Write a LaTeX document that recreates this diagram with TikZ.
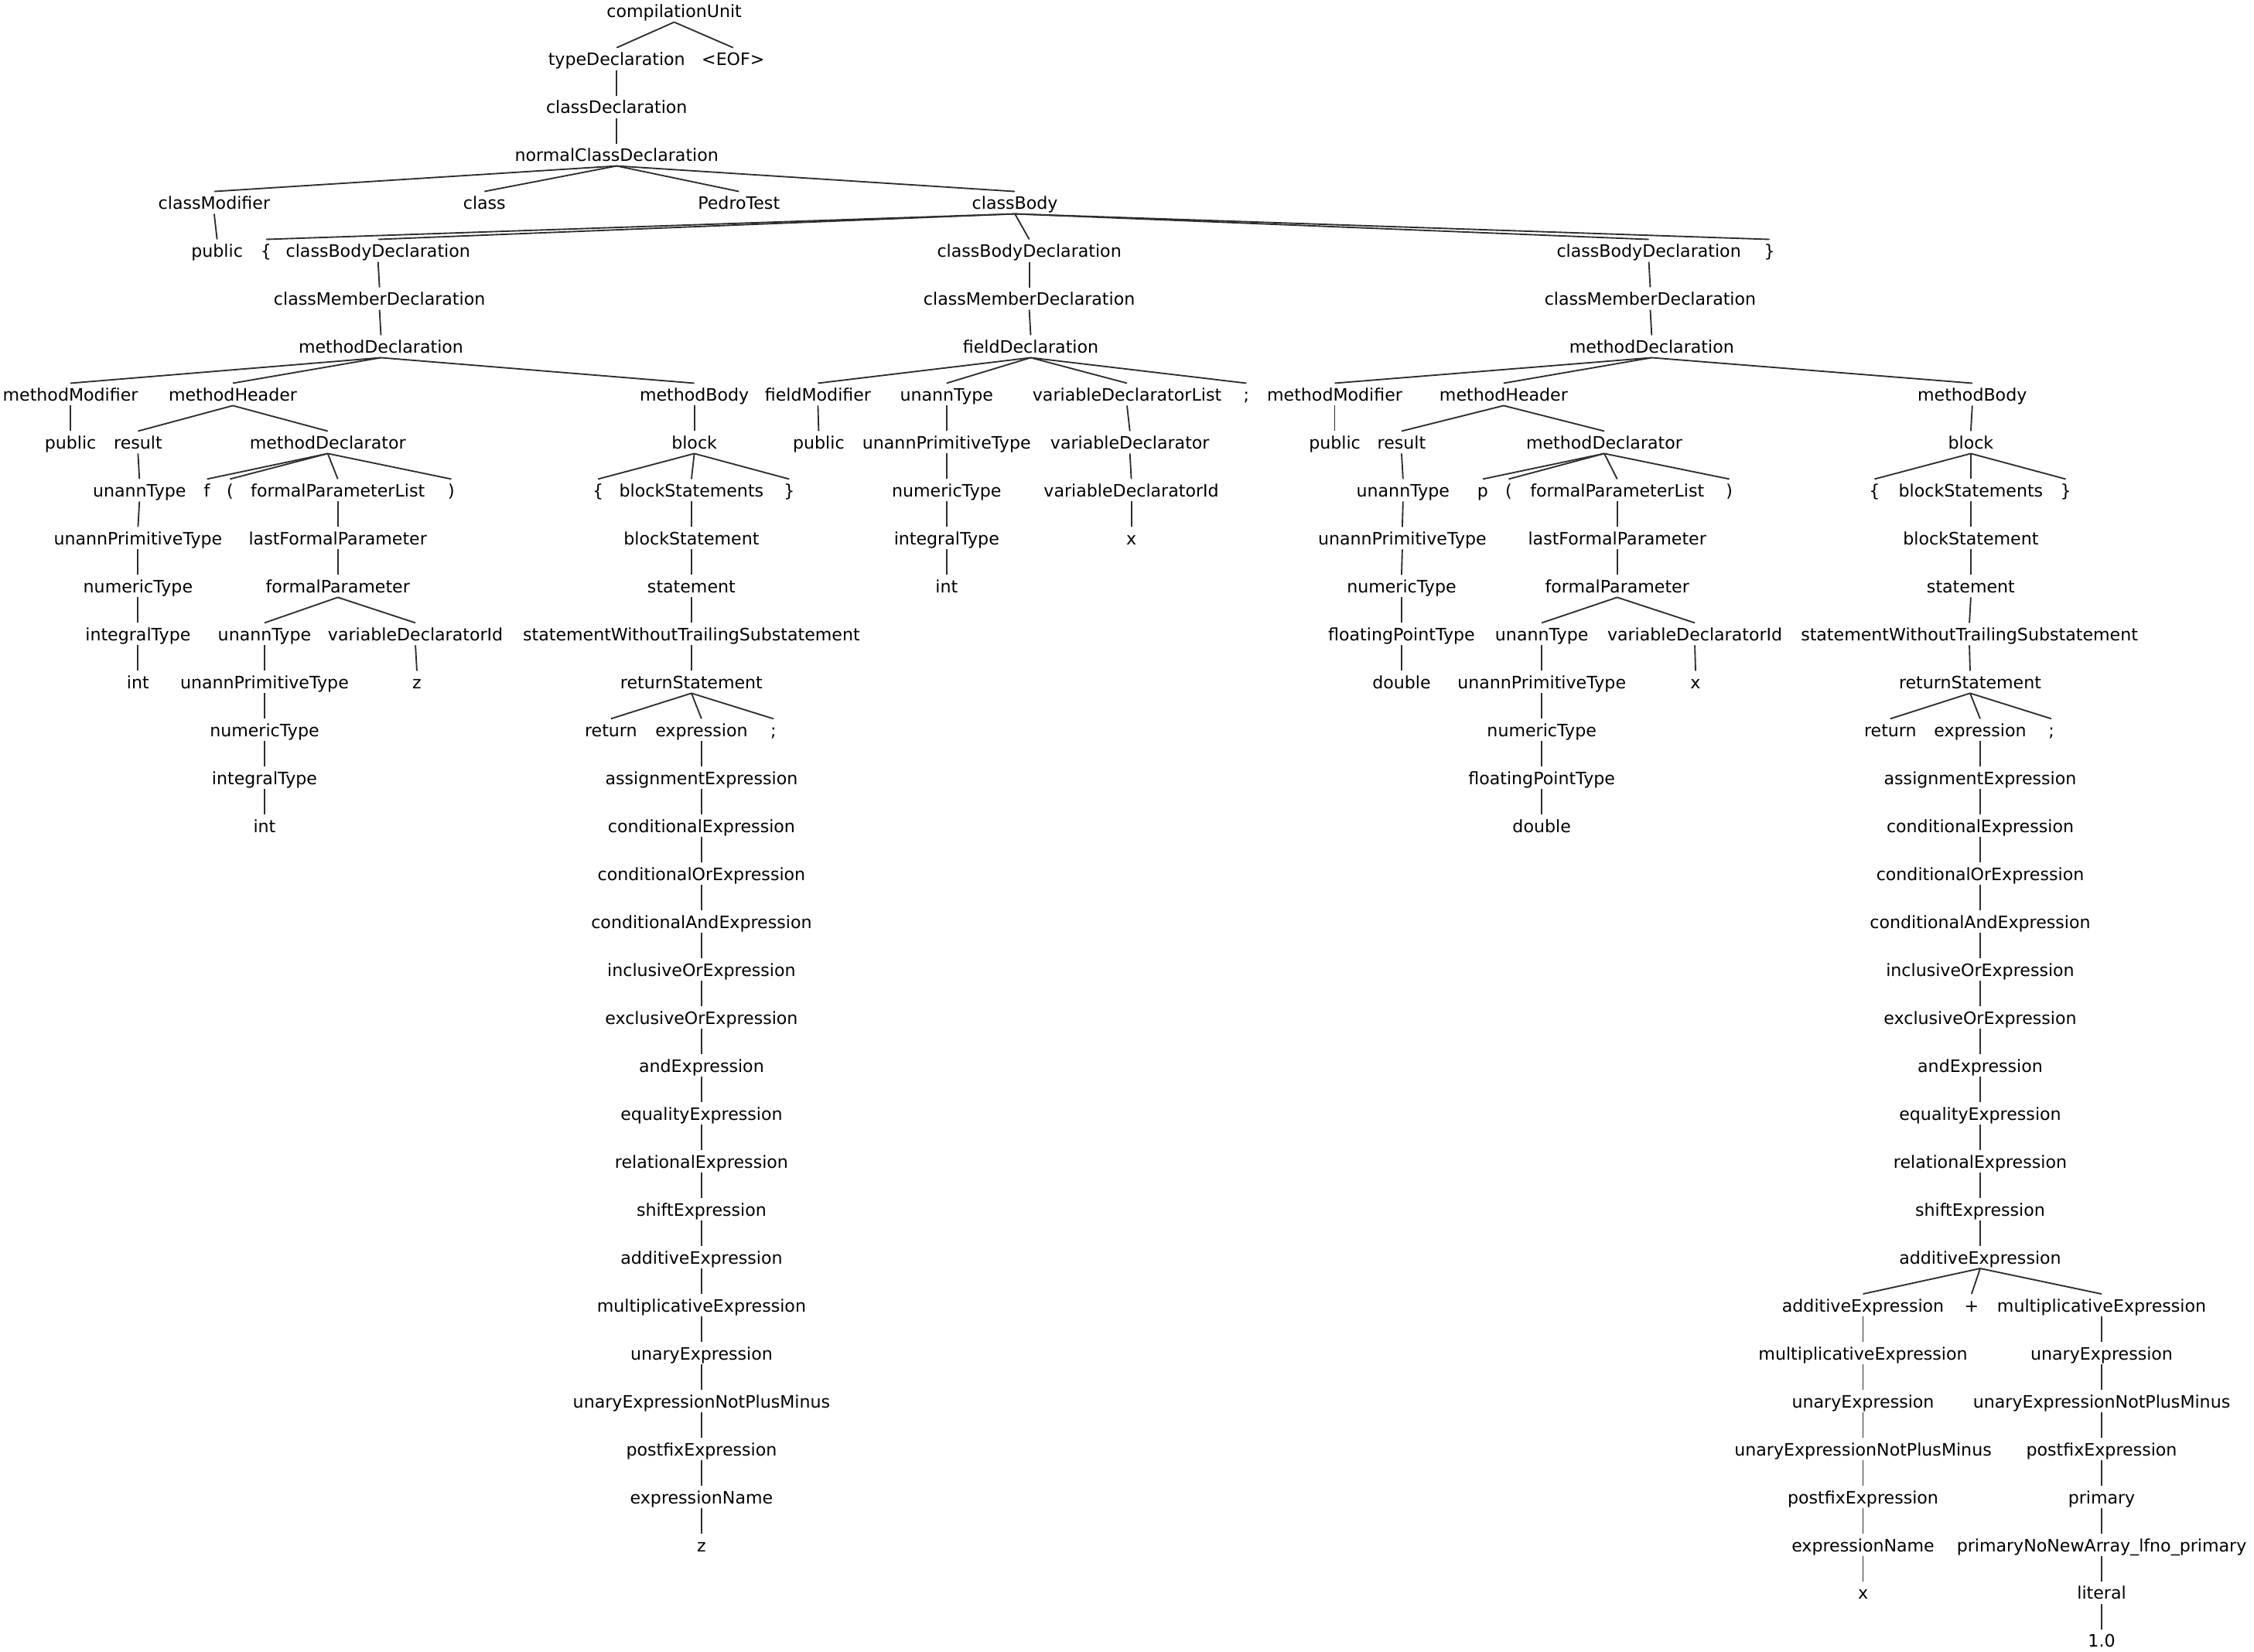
\documentclass[tikz,border=0pt]{standalone}
\usepackage{fontspec}
\setmainfont{DejaVu Sans}
\begin{document}
\begin{tikzpicture}[x=1pt,y=-33.35pt,
  t/.style={font=\fontsize{11.9}{13}\selectfont, anchor=base, inner sep=0pt, text height=12.2pt, text depth=3pt},
  e/.style={draw=black!82, line width=1pt}]
\useasboundingbox[fill=white] (0pt,0pt) rectangle (1568pt,-1149pt);
\begin{scope}[yshift=-12.2pt]
% top
\node[t] (cu) at (469,0) {compilationUnit};
\node[t] (td) at (429,1) {typeDeclaration};
\node[t] (eof) at (510,1) {<EOF>};
\node[t] (cd) at (429,2) {classDeclaration};
\node[t] (ncd) at (429,3) {normalClassDeclaration};
\node[t] (cm) at (149,4) {classModifier};
\node[t] (cls) at (337,4) {class};
\node[t] (pt) at (514,4) {PedroTest};
\node[t] (cb) at (706,4) {classBody};
\node[t] (pub0) at (151,5) {public};
\node[t] (lb0) at (185,5) {\{};
\node[t] (cbd1) at (263,5) {classBodyDeclaration};
\node[t] (cbd2) at (716,5) {classBodyDeclaration};
\node[t] (cbd3) at (1147,5) {classBodyDeclaration};
\node[t] (rb0) at (1231,5) {\}};
\node[t] (cmd1) at (264,6) {classMemberDeclaration};
\node[t] (cmd2) at (716,6) {classMemberDeclaration};
\node[t] (cmd3) at (1148,6) {classMemberDeclaration};
\node[t] (md1) at (265,7) {methodDeclaration};
\node[t] (fd) at (717,7) {fieldDeclaration};
\node[t] (md2) at (1149,7) {methodDeclaration};
% left method
\node[t] (amm) at (49,8) {methodModifier};
\node[t] (amh) at (162,8) {methodHeader};
\node[t] (amb) at (483,8) {methodBody};
\node[t] (apub) at (49,9) {public};
\node[t] (ares) at (96,9) {result};
\node[t] (amdr) at (228,9) {methodDeclarator};
\node[t] (ablk) at (483,9) {block};
\node[t] (aut) at (97,10) {unannType};
\node[t] (af) at (144,10) {f};
\node[t] (alp) at (160,10) {(};
\node[t] (afpl) at (235,10) {formalParameterList};
\node[t] (arp) at (314,10) {)};
\node[t] (albr) at (416,10) {\{};
\node[t] (abss) at (481,10) {blockStatements};
\node[t] (arbr) at (549,10) {\}};
\node[t] (aupt) at (96,11) {unannPrimitiveType};
\node[t] (alfp) at (235,11) {lastFormalParameter};
\node[t] (abs) at (481,11) {blockStatement};
\node[t] (ant) at (96,12) {numericType};
\node[t] (afp) at (235,12) {formalParameter};
\node[t] (ast) at (481,12) {statement};
\node[t] (ait) at (96,13) {integralType};
\node[t] (aut2) at (184,13) {unannType};
\node[t] (avdi) at (289,13) {variableDeclaratorId};
\node[t] (aswt) at (481,13) {statementWithoutTrailingSubstatement};
\node[t] (aint) at (96,14) {int};
\node[t] (aupt2) at (184,14) {unannPrimitiveType};
\node[t] (az) at (290,14) {z};
\node[t] (ars) at (481,14) {returnStatement};
\node[t] (ant2) at (184,15) {numericType};
\node[t] (aret) at (425,15) {return};
\node[t] (aexp) at (488,15) {expression};
\node[t] (asc) at (538,15) {;};
\node[t] (ait2) at (184,16) {integralType};
\node[t] (aint2) at (184,17) {int};
\foreach \r/\s in {16/assignmentExpression, 17/conditionalExpression, 18/conditionalOrExpression,
  19/conditionalAndExpression, 20/inclusiveOrExpression, 21/exclusiveOrExpression, 22/andExpression,
  23/equalityExpression, 24/relationalExpression, 25/shiftExpression, 26/additiveExpression,
  27/multiplicativeExpression, 28/unaryExpression, 29/unaryExpressionNotPlusMinus,
  30/postfixExpression, 31/expressionName, 32/z}
  \node[t] (ac\r) at (488,\r) {\s};
% field
\node[t] (ffm) at (569,8) {fieldModifier};
\node[t] (fut) at (658.5,8) {unannType};
\node[t] (fvdl) at (784,8) {variableDeclaratorList};
\node[t] (fsc) at (867,8) {;};
\node[t] (fpub) at (569.5,9) {public};
\node[t] (fupt) at (658.5,9) {unannPrimitiveType};
\node[t] (fvd) at (786,9) {variableDeclarator};
\node[t] (fnt) at (658.5,10) {numericType};
\node[t] (fvdi) at (787,10) {variableDeclaratorId};
\node[t] (fit) at (658.5,11) {integralType};
\node[t] (fx) at (787,11) {x};
\node[t] (fint) at (658.5,12) {int};
% right method
\node[t] (bmm) at (928.5,8) {methodModifier};
\node[t] (bmh) at (1046,8) {methodHeader};
\node[t] (bmb) at (1372,8) {methodBody};
\node[t] (bpub) at (928.5,9) {public};
\node[t] (bres) at (975,9) {result};
\node[t] (bmdr) at (1116,9) {methodDeclarator};
\node[t] (bblk) at (1371,9) {block};
\node[t] (but) at (976,10) {unannType};
\node[t] (bp) at (1031.5,10) {p};
\node[t] (blp) at (1049.5,10) {(};
\node[t] (bfpl) at (1125,10) {formalParameterList};
\node[t] (brp) at (1203,10) {)};
\node[t] (blbr) at (1304,10) {\{};
\node[t] (bbss) at (1371,10) {blockStatements};
\node[t] (brbr) at (1437,10) {\}};
\node[t] (bupt) at (975.5,11) {unannPrimitiveType};
\node[t] (blfp) at (1125,11) {lastFormalParameter};
\node[t] (bbs) at (1371,11) {blockStatement};
\node[t] (bnt) at (975,12) {numericType};
\node[t] (bfp) at (1125,12) {formalParameter};
\node[t] (bst) at (1371,12) {statement};
\node[t] (bfpt) at (975,13) {floatingPointType};
\node[t] (but2) at (1072.5,13) {unannType};
\node[t] (bvdi) at (1179,13) {variableDeclaratorId};
\node[t] (bswt) at (1370,13) {statementWithoutTrailingSubstatement};
\node[t] (bdbl) at (975,14) {double};
\node[t] (bupt2) at (1072.5,14) {unannPrimitiveType};
\node[t] (bx) at (1179.5,14) {x};
\node[t] (brs) at (1370.5,14) {returnStatement};
\node[t] (bnt2) at (1072.5,15) {numericType};
\node[t] (bret) at (1315,15) {return};
\node[t] (bexp) at (1377.5,15) {expression};
\node[t] (bsc) at (1427,15) {;};
\node[t] (bfpt2) at (1072.5,16) {floatingPointType};
\node[t] (bdbl2) at (1072.5,17) {double};
\foreach \r/\s in {16/assignmentExpression, 17/conditionalExpression, 18/conditionalOrExpression,
  19/conditionalAndExpression, 20/inclusiveOrExpression, 21/exclusiveOrExpression, 22/andExpression,
  23/equalityExpression, 24/relationalExpression, 25/shiftExpression, 26/additiveExpression}
  \node[t] (bc\r) at (1377.5,\r) {\s};
\node[t] (bae) at (1296,27) {additiveExpression};
\node[t] (bplus) at (1371.5,27) {+};
\node[t] (bme) at (1462,27) {multiplicativeExpression};
\foreach \r/\s in {28/multiplicativeExpression, 29/unaryExpression, 30/unaryExpressionNotPlusMinus,
  31/postfixExpression, 32/expressionName, 33/x}
  \node[t] (bl\r) at (1296,\r) {\s};
\foreach \r/\s in {28/unaryExpression, 29/unaryExpressionNotPlusMinus, 30/postfixExpression,
  31/primary, 32/primaryNoNewArray\_lfno\_primary, 33/literal, 34/1.0}
  \node[t] (br\r) at (1462,\r) {\s};
% edges
\foreach \p/\c in {cu/td, cu/eof, td/cd, cd/ncd, ncd/cm, ncd/cls, ncd/pt, ncd/cb, cm/pub0,
  cb/lb0, cb/cbd1, cb/cbd2, cb/cbd3, cb/rb0, cbd1/cmd1, cbd2/cmd2, cbd3/cmd3,
  cmd1/md1, cmd2/fd, cmd3/md2,
  md1/amm, md1/amh, md1/amb, amm/apub, amh/ares, amh/amdr, amb/ablk, ares/aut,
  amdr/af, amdr/alp, amdr/afpl, amdr/arp, ablk/albr, ablk/abss, ablk/arbr,
  aut/aupt, afpl/alfp, abss/abs, aupt/ant, alfp/afp, abs/ast, ant/ait, afp/aut2, afp/avdi,
  ast/aswt, ait/aint, aut2/aupt2, avdi/az, aswt/ars, aupt2/ant2, ars/aret, ars/aexp, ars/asc,
  ant2/ait2, ait2/aint2, aexp/ac16,
  ac16/ac17, ac17/ac18, ac18/ac19, ac19/ac20, ac20/ac21, ac21/ac22, ac22/ac23, ac23/ac24,
  ac24/ac25, ac25/ac26, ac26/ac27, ac27/ac28, ac28/ac29, ac29/ac30, ac30/ac31, ac31/ac32,
  fd/ffm, fd/fut, fd/fvdl, fd/fsc, ffm/fpub, fut/fupt, fvdl/fvd, fupt/fnt, fvd/fvdi,
  fnt/fit, fvdi/fx, fit/fint,
  md2/bmm, md2/bmh, md2/bmb, bmm/bpub, bmh/bres, bmh/bmdr, bmb/bblk, bres/but,
  bmdr/bp, bmdr/blp, bmdr/bfpl, bmdr/brp, bblk/blbr, bblk/bbss, bblk/brbr,
  but/bupt, bfpl/blfp, bbss/bbs, bupt/bnt, blfp/bfp, bbs/bst, bnt/bfpt, bfp/but2, bfp/bvdi,
  bst/bswt, bfpt/bdbl, but2/bupt2, bvdi/bx, bswt/brs, bupt2/bnt2, brs/bret, brs/bexp, brs/bsc,
  bnt2/bfpt2, bfpt2/bdbl2, bexp/bc16,
  bc16/bc17, bc17/bc18, bc18/bc19, bc19/bc20, bc20/bc21, bc21/bc22, bc22/bc23, bc23/bc24,
  bc24/bc25, bc25/bc26, bc26/bae, bc26/bplus, bc26/bme,
  bae/bl28, bl28/bl29, bl29/bl30, bl30/bl31, bl31/bl32, bl32/bl33,
  bme/br28, br28/br29, br29/br30, br30/br31, br31/br32, br32/br33, br33/br34}
  \draw[e] (\p.south) -- (\c.north);
\end{scope}
\end{tikzpicture}
\end{document}
